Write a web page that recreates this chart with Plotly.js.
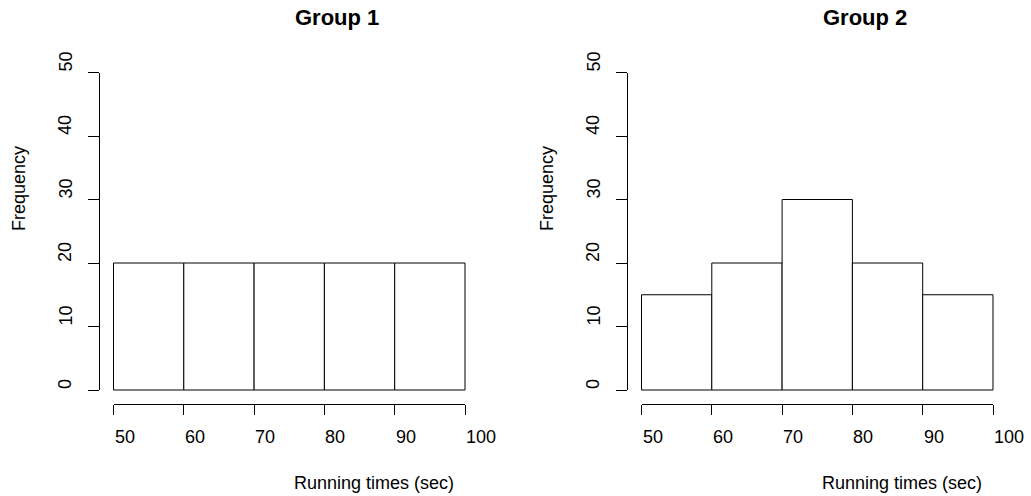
<!DOCTYPE html>
<html>
<head>
<meta charset="utf-8">
<script src="https://cdn.plot.ly/plotly-3.0.1.min.js"></script>
<style>html,body{margin:0;padding:0;background:#fff;}#chart{width:1031px;height:496px;}</style>
</head>
<body>
<div id="chart"></div>
<script>
// ---- data ----
const binCenters = [55, 65, 75, 85, 95];
const binWidth = 10;
const group1Counts = [20, 20, 20, 20, 20];
const group2Counts = [15, 20, 30, 20, 15];
const xTickVals = [50, 60, 70, 80, 90, 100];
const yTickVals = [0, 10, 20, 30, 40, 50];
const panelTitles = ["Group 1", "Group 2"];
const xLabel = "Running times (sec)";
const yLabel = "Frequency";

// ---- layout geometry (pixels) ----
const W = 1031, H = 496;
const FONT = "Liberation Sans, Arial, Helvetica, sans-serif";
const panels = [
  {x50: 113.5, x100: 465, y0: 390, y50: 72.5, yAxisX: 99, xAxisY: 403.5, titleX: 337, xlabX: 374, ylabX: 19, yTickLabX: 65},
  {x50: 641.5, x100: 993, y0: 390, y50: 72.5, yAxisX: 627, xAxisY: 403.5, titleX: 865, xlabX: 902, ylabX: 547, yTickLabX: 593}
];
const counts = [group1Counts, group2Counts];

const data = [];
const layout = {
  width: W, height: H,
  margin: {l: 0, r: 0, t: 0, b: 0},
  paper_bgcolor: "#fff", plot_bgcolor: "rgba(0,0,0,0)",
  showlegend: false,
  font: {family: FONT, size: 18, color: "#000"},
  annotations: []
};

panels.forEach((p, i) => {
  const n = i * 2 + 1;       // bar axes index
  const m = i * 2 + 2;       // decorative axes index
  const kx = (p.x100 - p.x50) / 50;
  const ky = (p.y0 - p.y50) / 50;
  const pad = 5;
  const barX = n === 1 ? "x" : "x" + n, barY = n === 1 ? "y" : "y" + n;
  data.push({
    type: "bar", x: binCenters, y: counts[i], width: binWidth,
    xaxis: barX, yaxis: barY,
    marker: {color: "#fff", line: {color: "#000", width: 1}},
    hoverinfo: "x+y"
  });
  data.push({type: "scatter", x: [], y: [], xaxis: "x" + m, yaxis: "y" + m, hoverinfo: "skip"});

  const kxName = n === 1 ? "xaxis" : "xaxis" + n;
  const kyName = n === 1 ? "yaxis" : "yaxis" + n;
  layout[kxName] = {
    domain: [(p.x50 - pad * kx) / W, (p.x100 + pad * kx) / W],
    range: [50 - pad, 100 + pad], anchor: barY,
    visible: false, fixedrange: true
  };
  layout[kyName] = {
    domain: [1 - (p.y0 + pad * ky) / H, 1 - (p.y50 - pad * ky) / H],
    range: [-pad, 50 + pad], anchor: barX,
    visible: false, fixedrange: true
  };
  layout["xaxis" + m] = {
    domain: [p.x50 / W, p.x100 / W], range: [50, 100],
    anchor: "free", position: 1 - p.xAxisY / H, side: "bottom",
    showline: true, linecolor: "#000", linewidth: 1,
    ticks: "outside", ticklen: 10, tickcolor: "#000", tickwidth: 1,
    tickmode: "array", tickvals: xTickVals, showticklabels: false,
    showgrid: false, zeroline: false, fixedrange: true
  };
  layout["yaxis" + m] = {
    domain: [1 - p.y0 / H, 1 - p.y50 / H], range: [0, 50],
    anchor: "free", position: p.yAxisX / W, side: "left",
    showline: true, linecolor: "#000", linewidth: 1,
    ticks: "outside", ticklen: 11, tickcolor: "#000", tickwidth: 1,
    tickmode: "array", tickvals: yTickVals, showticklabels: false,
    showgrid: false, zeroline: false, fixedrange: true
  };

  // tick labels (R-style: text starts at the tick)
  xTickVals.forEach(v => layout.annotations.push({
    text: String(v), xref: "x" + m, yref: "paper", x: v, y: 1 - 437 / H,
    xanchor: "left", yanchor: "middle", showarrow: false, borderpad: 0,
    font: {family: FONT, size: 18, color: "#000"}
  }));
  yTickVals.forEach(v => layout.annotations.push({
    text: String(v), xref: "paper", yref: "y" + m, x: p.yTickLabX / W, y: v,
    textangle: -90, xanchor: "center", yanchor: "bottom", showarrow: false, borderpad: 0,
    font: {family: FONT, size: 18, color: "#000"}
  }));

  layout.annotations.push(
    {text: "<b>" + panelTitles[i] + "</b>", xref: "paper", yref: "paper",
     x: p.titleX / W, y: 1 - 17 / H, xanchor: "center", yanchor: "middle",
     showarrow: false, font: {family: FONT, size: 22, color: "#000"}},
    {text: xLabel, xref: "paper", yref: "paper",
     x: p.xlabX / W, y: 1 - 483 / H, xanchor: "center", yanchor: "middle",
     showarrow: false, font: {family: FONT, size: 18, color: "#000"}},
    {text: yLabel, xref: "paper", yref: "paper", textangle: -90,
     x: p.ylabX / W, y: 1 - 189 / H, xanchor: "center", yanchor: "middle",
     showarrow: false, font: {family: FONT, size: 18, color: "#000"}}
  );
});

Plotly.newPlot("chart", data, layout, {displayModeBar: false});
</script>
</body>
</html>
